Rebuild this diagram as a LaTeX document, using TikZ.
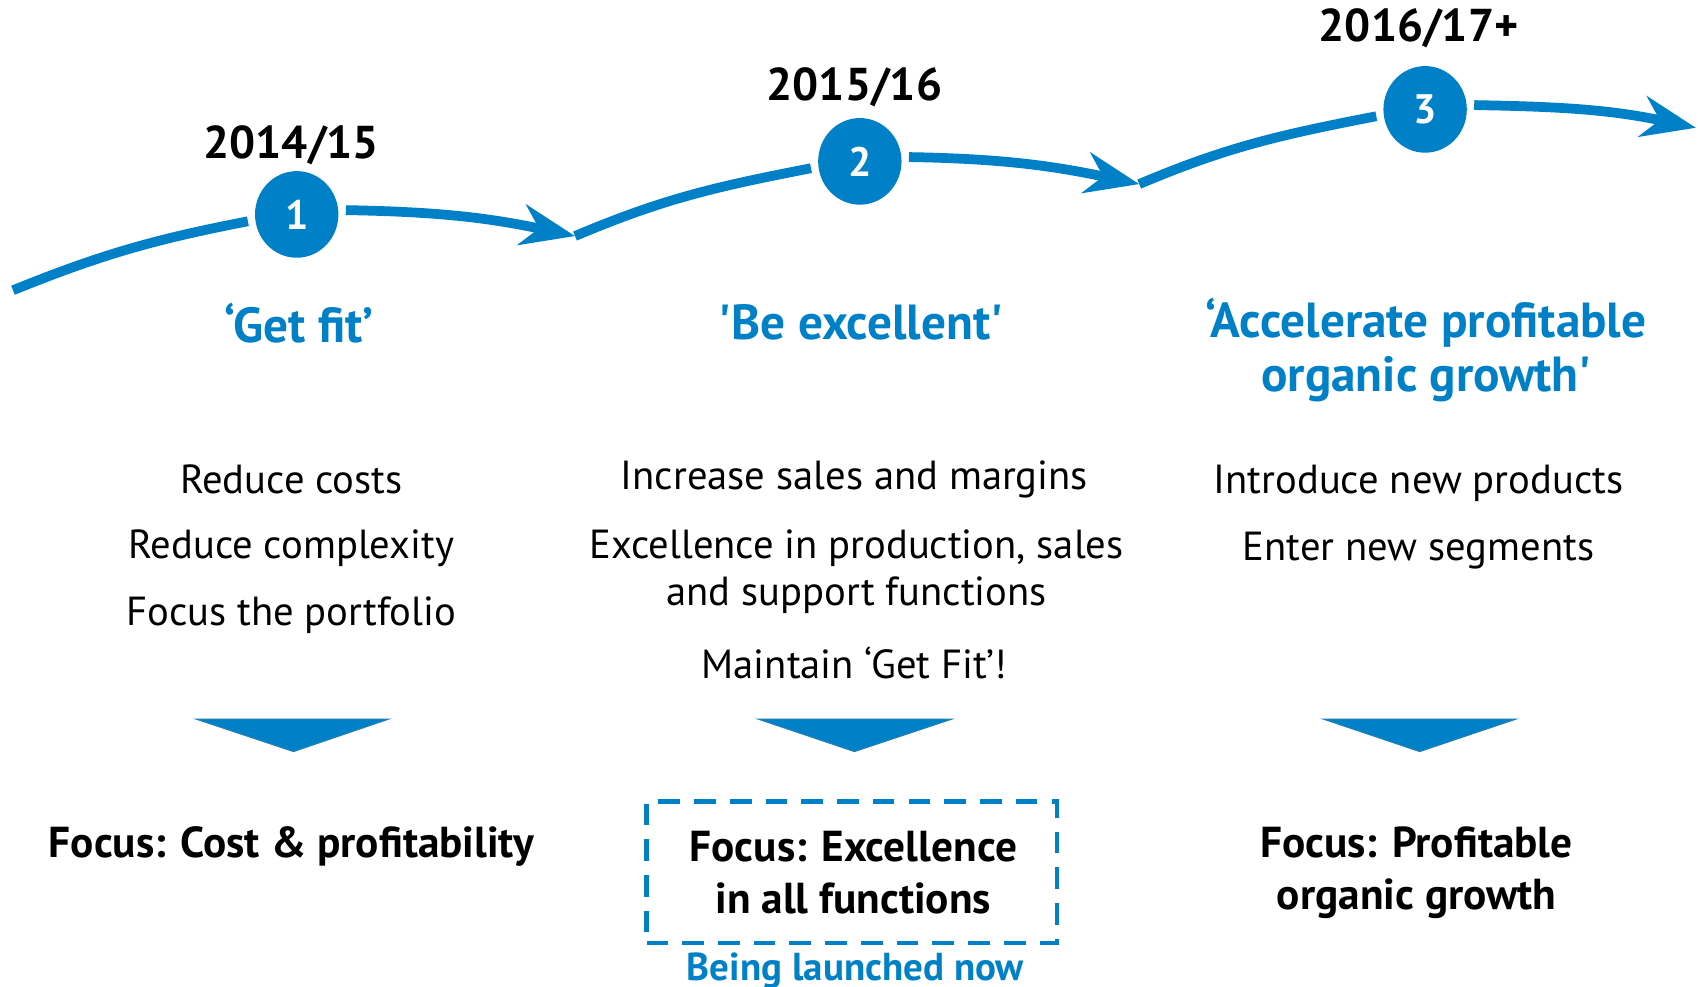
\documentclass[tikz,border=0pt]{standalone}
\usepackage{fontspec}
\setmainfont{PT Sans}
\usetikzlibrary{arrows.meta,shapes.geometric}
\definecolor{brand}{RGB}{0,128,198}
\begin{document}
\begin{tikzpicture}[x=1pt,y=1pt,
  year/.style={font=\fontsize{42.5}{50}\selectfont\bfseries},
  stage/.style={ellipse, fill=brand, minimum width=77pt, minimum height=80pt,
    inner sep=0pt, outer sep=7pt, text=white, font=\fontsize{38}{44}\selectfont\bfseries},
  title/.style={text=brand, align=center, font=\fontsize{45.5}{50}\selectfont\bfseries},
  item/.style={align=center, font=\fontsize{37.5}{44}\selectfont},
  focus/.style={align=center, font=\fontsize{40}{48}\selectfont\bfseries},
  road/.style={draw=brand, line width=9pt},
  roadtip/.style={road, -{Stealth[length=50pt,width=38pt,inset=16pt]}},
  marker/.style={fill=brand, draw=brand!75!gray, line width=1pt},
  launchbox/.style={draw=brand, line width=4pt, dash pattern=on 20pt off 13pt,
    minimum width=379pt, minimum height=131pt, inner sep=0pt}
]
\useasboundingbox (0,0) rectangle (1568,-911);

% timeline stages
\node[stage] (c1) at (274,-198) {1};
\node[stage] (c2) at (794,-149) {2};
\node[stage] (c3) at (1316,-101) {3};

\node[year] (y1) at (269,-134) {2014/15};
\node[year] (y2) at (789,-81) {2015/16};
\node[year] (y3) at (1310,-26) {2016/17+};

% path joints
\coordinate (j0) at (12,-268);
\coordinate (j1) at (531,-218);
\coordinate (j2) at (1052,-170);
\coordinate (j3) at (1566,-118);

\draw[road] (j0) to[out=22,in=191] (c1.188);
\draw[roadtip] (c1.5) to[out=-1,in=168] (j1);
\draw[road] (j1) to[out=23,in=191] (c2.188);
\draw[roadtip] (c2.5) to[out=-1,in=168] (j2);
\draw[road] (j2) to[out=23,in=191] (c3.188);
\draw[roadtip] (c3.5) to[out=-1,in=168] (j3);

% stage titles
\node[title] (t1) at (276,-298) {‘Get fit’};
\node[title] (t2) at (795,-298) {\textquotesingle Be excellent\textquotesingle};
\node[title] (t3) at (1317,-323) {‘Accelerate profitable\\organic growth\textquotesingle};

% measures
\node[item] (a1) at (269,-443) {Reduce costs};
\node[item] (a2) at (269,-506) {Reduce complexity};
\node[item] (a3) at (269,-568) {Focus the portfolio};

\node[item] (b1) at (789,-443) {Increase sales and margins};
\node[item] (b2) at (791,-528) {Excellence in production, sales\\and support functions};
\node[item] (b3) at (789,-612) {Maintain ‘Get Fit’!};

\node[item] (d1) at (1310,-446) {Introduce new products};
\node[item] (d2) at (1310,-508) {Enter new segments};

% down markers
\filldraw[marker] (181,-664) -- (359,-664) -- (271,-694) -- cycle;
\filldraw[marker] (700,-664) -- (879,-664) -- (789,-694) -- cycle;
\filldraw[marker] (1222,-664) -- (1400,-664) -- (1311,-694) -- cycle;

% focus statements
\node[focus] (f1) at (269,-782) {Focus: Cost \& profitability};
\node[launchbox] (box) at (786.5,-805.5) {};
\node[focus] (f2) at (788,-806) {Focus: Excellence\\in all functions};
\node[focus] (f3) at (1308,-806) {Focus: Profitable\\organic growth};

\node[text=brand, font=\fontsize{36}{42}\selectfont\bfseries] (now) at (790,-896) {Being launched now};
\end{tikzpicture}
\end{document}
